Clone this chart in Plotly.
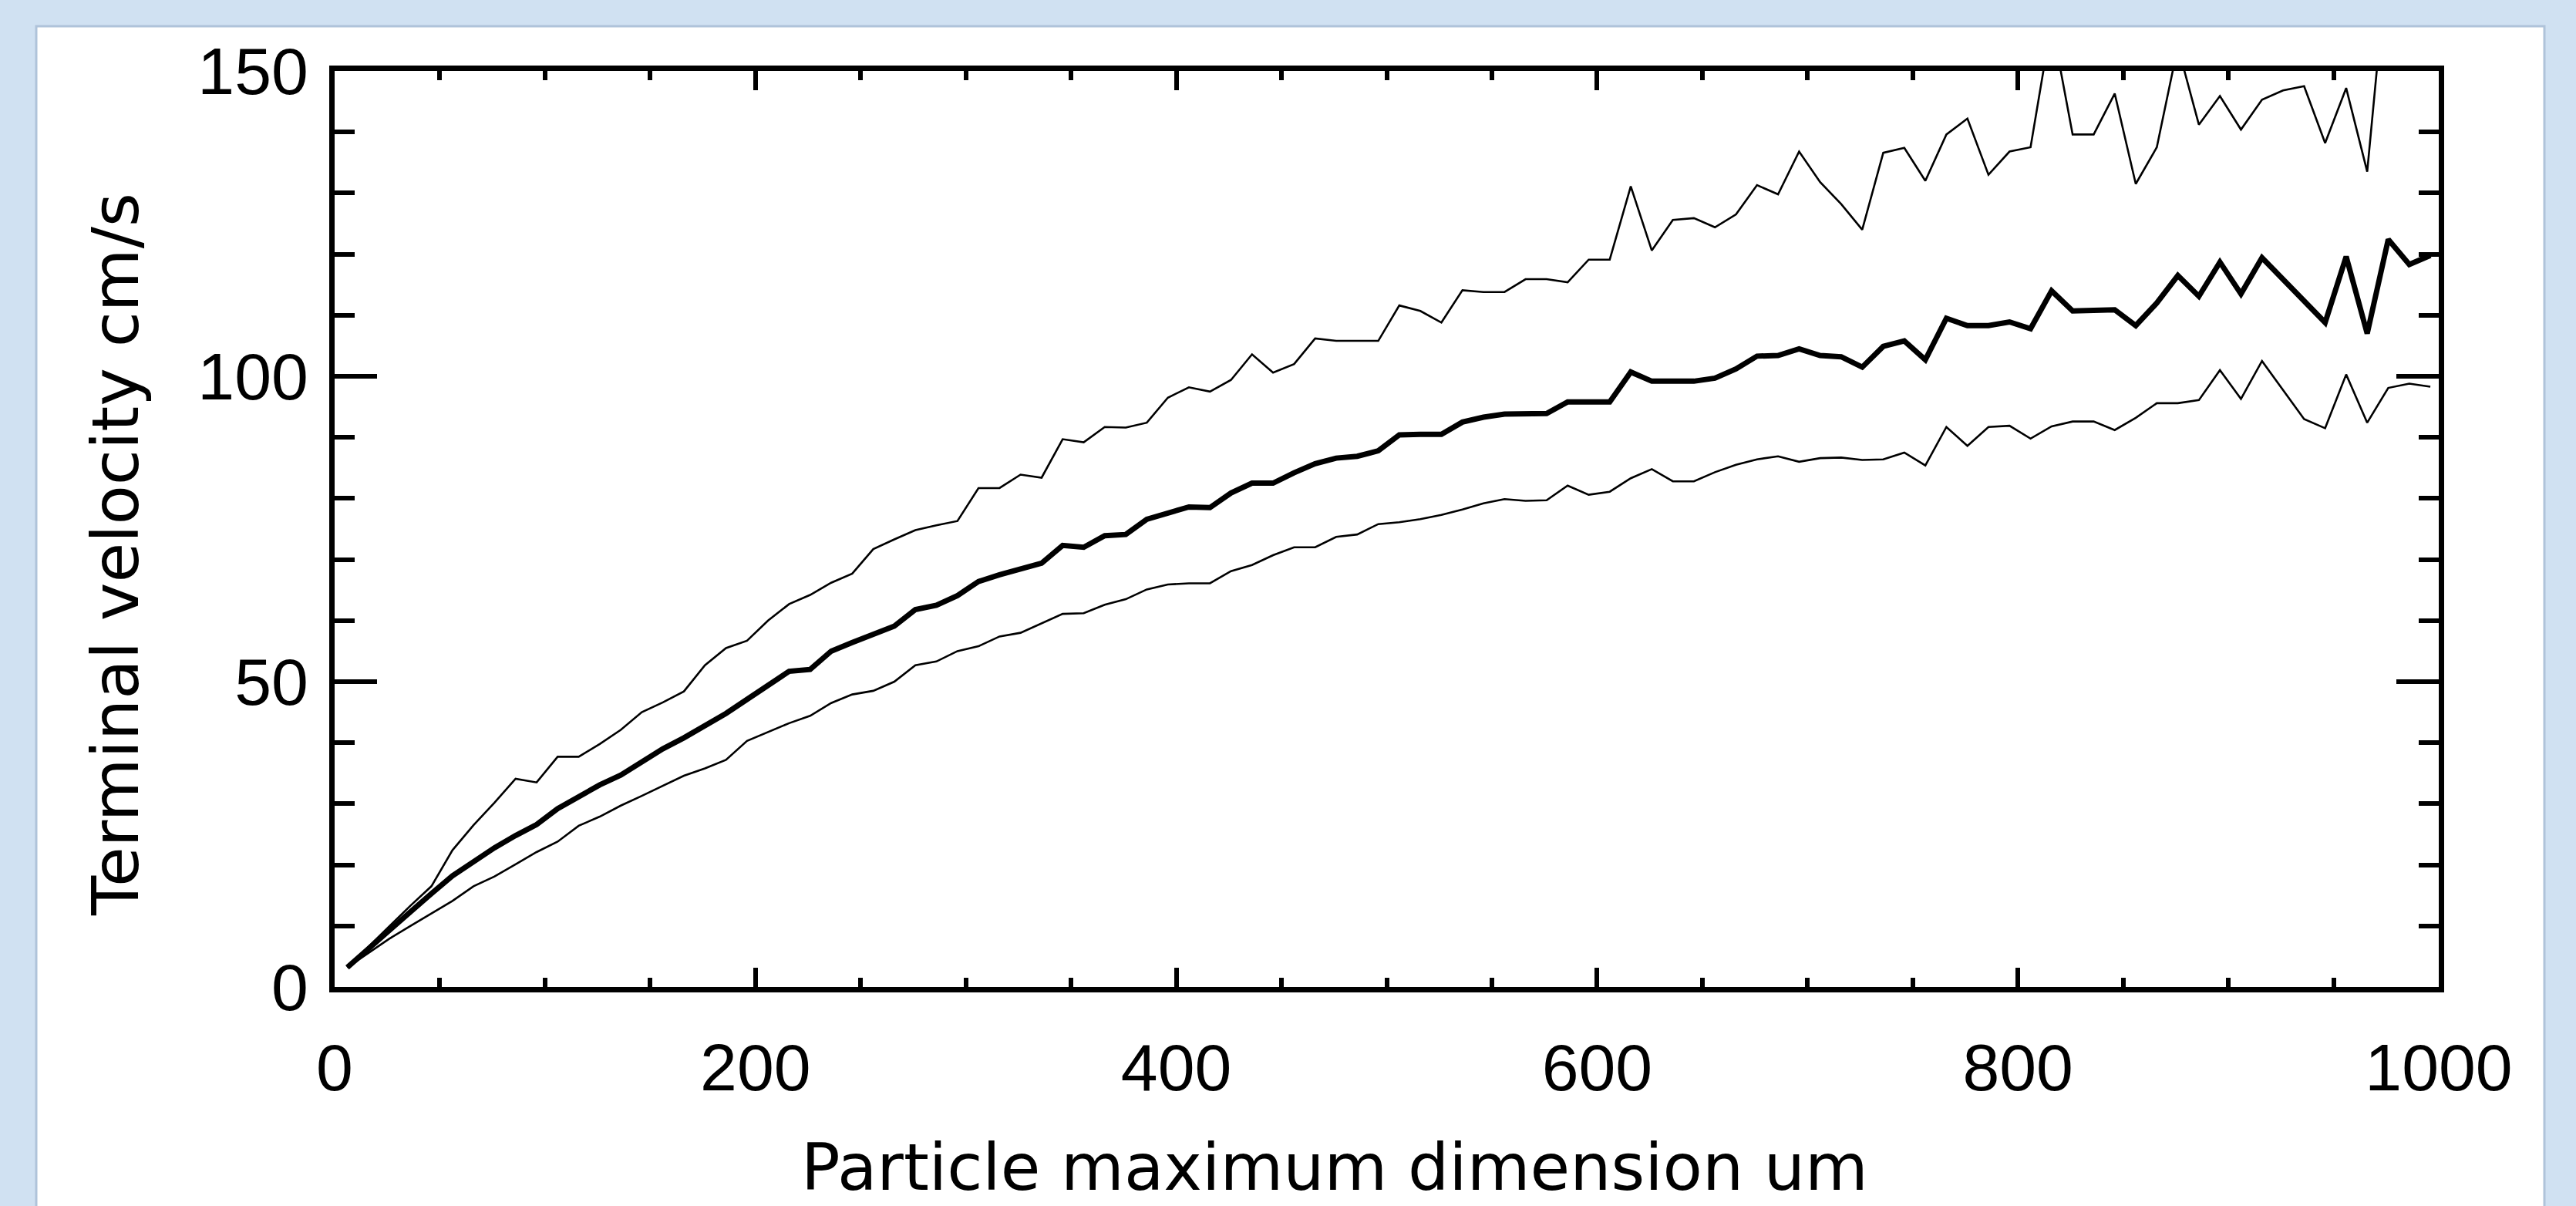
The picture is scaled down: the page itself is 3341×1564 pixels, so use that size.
import plotly.graph_objects as go

# Particle maximum dimension (um)
dimension_um = [6, 16, 26, 36, 46, 56, 66, 76, 86, 96,
                106, 116, 126, 136, 146, 156, 166, 176, 186, 196,
                206, 216, 226, 236, 246, 256, 266, 276, 286, 296,
                306, 316, 326, 336, 346, 356, 366, 376, 386, 396,
                406, 416, 426, 436, 446, 456, 466, 476, 486, 496,
                506, 516, 526, 536, 546, 556, 566, 576, 586, 596,
                606, 616, 626, 636, 646, 656, 666, 676, 686, 696,
                706, 716, 726, 736, 746, 756, 766, 776, 786, 796,
                806, 816, 826, 836, 846, 856, 866, 876, 886, 896,
                906, 916, 926, 936, 946, 956, 966, 976, 986, 996]

# Mean terminal velocity (cm/s) - thick line
velocity_mean = [3.2, 6.3, 9.3, 12.3, 15.3, 18.2, 20.5, 22.8, 24.8, 26.6,
                 29.2, 31.2, 33.1, 34.7, 36.9, 39.0, 40.8, 42.8, 44.8, 47.1,
                 49.5, 51.7, 52.0, 55.0, 56.4, 57.7, 59.1, 61.8, 62.5, 64.1,
                 66.4, 67.5, 68.5, 69.4, 72.3, 72.0, 73.9, 74.1, 76.6, 77.7,
                 78.6, 78.5, 80.9, 82.5, 82.5, 84.2, 85.7, 86.6, 86.9, 87.8,
                 90.4, 90.5, 90.5, 92.5, 93.3, 93.8, 93.8, 93.9, 95.8, 95.8,
                 95.8, 100.7, 99.2, 99.2, 99.2, 99.7, 101.2, 103.3, 103.4, 104.5,
                 103.4, 103.2, 101.5, 104.9, 105.8, 102.7, 109.5, 108.3, 108.3, 108.9,
                 107.8, 114.0, 110.7, 110.8, 110.9, 108.3, 112.0, 116.5, 113.1, 118.7,
                 113.5, 119.4, 115.9, 112.3, 108.8, 119.6, 107.0, 122.4, 118.3, 119.8]

# Upper envelope (cm/s) - thin line
velocity_upper = [3.2, 6.6, 10.0, 13.3, 16.5, 22.4, 26.5, 30.2, 34.1, 33.5,
                  37.7, 37.7, 39.8, 42.1, 45.0, 46.6, 48.4, 52.7, 55.5, 56.7,
                  60.0, 62.7, 64.2, 66.2, 67.7, 71.7, 73.3, 74.8, 75.6, 76.3,
                  81.7, 81.7, 83.9, 83.4, 89.7, 89.2, 91.7, 91.6, 92.4, 96.5,
                  98.2, 97.5, 99.4, 103.6, 100.6, 102.0, 106.2, 105.8, 105.8, 105.8,
                  111.6, 110.7, 108.8, 114.1, 113.8, 113.8, 115.9, 115.9, 115.4, 119.1,
                  119.1, 131.1, 120.6, 125.6, 125.9, 124.4, 126.5, 131.3, 129.8, 136.8,
                  131.8, 128.2, 124.0, 136.6, 137.4, 132.0, 139.6, 142.2, 133.0, 136.8,
                  137.5, 158.0, 139.6, 139.6, 146.3, 131.5, 137.5, 154.0, 141.2, 145.9,
                  140.4, 145.3, 146.8, 147.5, 138.2, 147.2, 133.5, 170.0, 160.0, 166.0]

# Lower envelope (cm/s) - thin line
velocity_lower = [3.2, 5.5, 7.9, 10.0, 12.0, 14.1, 16.5, 18.1, 20.1, 22.1,
                  23.8, 26.4, 27.9, 29.7, 31.3, 32.9, 34.6, 35.8, 37.2, 40.3,
                  41.8, 43.2, 44.4, 46.5, 47.9, 48.5, 50.0, 52.7, 53.3, 55.0,
                  55.8, 57.4, 58.0, 59.6, 61.1, 61.2, 62.6, 63.5, 65.1, 65.9,
                  66.1, 66.1, 68.1, 69.1, 70.7, 72.0, 72.0, 73.7, 74.1, 75.8,
                  76.1, 76.6, 77.3, 78.2, 79.2, 79.9, 79.6, 79.7, 82.1, 80.6,
                  81.1, 83.3, 84.8, 82.8, 82.8, 84.3, 85.5, 86.4, 86.9, 86.0,
                  86.6, 86.7, 86.3, 86.4, 87.5, 85.4, 91.7, 88.6, 91.7, 91.9,
                  89.8, 91.8, 92.6, 92.6, 91.2, 93.2, 95.6, 95.6, 96.1, 101.0,
                  96.3, 102.5, 97.8, 93.0, 91.5, 100.3, 92.4, 98.1, 98.8, 98.3]

x_tick_vals = [0, 200, 400, 600, 800, 1000]
x_tick_text = ["0", "200", "400", "600", "800", "1000"]
y_tick_vals = [0, 50, 100, 150]
y_tick_text = ["0", "50", "100", "150"]

x_title = "Particle maximum dimension um"
y_title = "Terminal velocity cm/s"

W, H = 3341, 1564
L, R, T, B = 434, 178, 92, 284

fig = go.Figure()
fig.add_trace(go.Scatter(x=dimension_um, y=velocity_upper, mode="lines",
                         line=dict(color="black", width=2.6), showlegend=False))
fig.add_trace(go.Scatter(x=dimension_um, y=velocity_lower, mode="lines",
                         line=dict(color="black", width=2.6), showlegend=False))
fig.add_trace(go.Scatter(x=dimension_um, y=velocity_mean, mode="lines",
                         line=dict(color="black", width=7), showlegend=False))

tick_font = dict(family="Liberation Sans, Arial, sans-serif", size=86, color="black")
title_font = dict(family="DejaVu Sans, sans-serif", size=84, color="black")

fig.update_xaxes(range=[0, 1000], tickmode="array", tickvals=x_tick_vals, ticktext=x_tick_text,
                 ticks="inside", ticklen=25, tickwidth=6, tickcolor="black",
                 minor=dict(dtick=50, ticks="inside", ticklen=12, tickwidth=6, tickcolor="black"),
                 showline=True, linewidth=7, linecolor="black", mirror="ticks",
                 showgrid=False, zeroline=False, tickfont=tick_font, ticklabelstandoff=24)
fig.update_yaxes(range=[0, 150], tickmode="array", tickvals=y_tick_vals, ticktext=y_tick_text,
                 ticks="inside", ticklen=55, tickwidth=6, tickcolor="black",
                 minor=dict(dtick=10, ticks="inside", ticklen=26, tickwidth=6, tickcolor="black"),
                 showline=True, linewidth=7, linecolor="black", mirror="ticks",
                 showgrid=False, zeroline=False, tickfont=tick_font, ticklabelstandoff=10)

pw = W - L - R
ph = H - T - B

def px_to_paper_x(px):
    return (px - L) / pw

def px_to_paper_y(py):
    return (H - B - py) / ph

fig.add_shape(type="rect", xref="paper", yref="paper", layer="below",
              x0=px_to_paper_x(47), x1=px_to_paper_x(3300),
              y0=px_to_paper_y(1580), y1=px_to_paper_y(34),
              fillcolor="white", line=dict(color="#AFC3DA", width=3))

fig.add_annotation(text=x_title, xref="paper", yref="paper",
                   x=px_to_paper_x(1731), y=px_to_paper_y(1514),
                   xanchor="center", yanchor="middle", showarrow=False, font=title_font)
fig.add_annotation(text=y_title, xref="paper", yref="paper",
                   x=px_to_paper_x(150), y=px_to_paper_y(719), textangle=-90,
                   xanchor="center", yanchor="middle", showarrow=False, font=title_font)

fig.update_layout(width=W, height=H, margin=dict(l=L, r=R, t=T, b=B, pad=0),
                  paper_bgcolor="#D0E1F2", plot_bgcolor="white")

fig.write_html("out.html")
